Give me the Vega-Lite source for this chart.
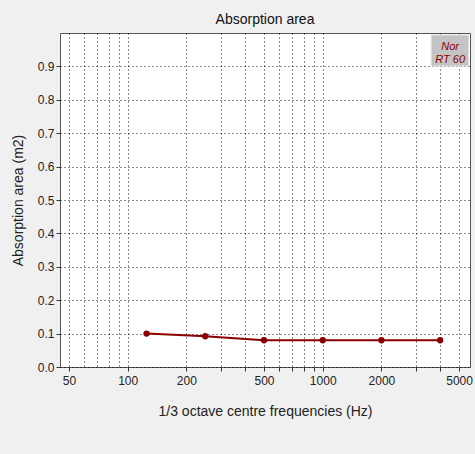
{
  "$schema": "https://vega.github.io/schema/vega-lite/v6.json",
  "autosize": "none",
  "width": 410,
  "height": 334,
  "padding": {"left": 60, "top": 33, "right": 5, "bottom": 87},
  "background": "#f0f0f0",
  "title": {"text": "Absorption area", "fontSize": 14, "fontWeight": "normal", "font": "Liberation Sans", "color": "#111", "offset": 6},
  "config": {
    "view": {"stroke": "#555", "fill": "white", "strokeWidth": 1},
    "axis": {"labelFont": "Liberation Sans", "titleFont": "Liberation Sans", "labelFontSize": 12, "titleFontSize": 14, "titleFontWeight": "normal", "labelColor": "#222", "titleColor": "#222", "domain": false, "tickColor": "#333", "gridColor": "#000", "gridDash": [1, 3], "gridOpacity": 0.9, "labelOverlap": false}
  },
  "datasets": {
    "main": [
      {"freq": 125, "area": 0.10},
      {"freq": 250, "area": 0.092},
      {"freq": 500, "area": 0.08},
      {"freq": 1000, "area": 0.08},
      {"freq": 2000, "area": 0.08},
      {"freq": 4000, "area": 0.08}
    ],
    "badge": [{"label": "Nor\nRT 60"}]
  },
  "layer": [
    {
      "data": {"name": "main"},
      "mark": {"type": "line", "color": "#8b0000", "strokeWidth": 2},
      "encoding": {
        "x": {"field": "freq", "type": "quantitative",
          "scale": {"type": "log", "domain": [45, 5690], "nice": false},
          "axis": {
            "title": "1/3 octave centre frequencies (Hz)",
            "values": [50, 60, 70, 80, 90, 100, 200, 300, 400, 500, 600, 700, 800, 900, 1000, 2000, 3000, 4000, 5000],
            "labelExpr": "indexof([50,100,200,500,1000,2000,5000], datum.value) >= 0 ? datum.value : ''",
            "tickOpacity": {"condition": {"test": "datum.value < 100 && datum.value != 50", "value": 0}, "value": 1},
            "tickSize": 4, "labelPadding": 4, "titlePadding": 18, "labelFlush": false
          }
        },
        "y": {"field": "area", "type": "quantitative",
          "scale": {"domain": [0, 1], "nice": false},
          "axis": {
            "title": "Absorption area (m2)",
            "values": [0, 0.1, 0.2, 0.3, 0.4, 0.5, 0.6, 0.7, 0.8, 0.9],
            "format": ".1f", "tickSize": 4, "labelPadding": 2, "titlePadding": 12, "labelFlush": false, "labelOverlap": false
          }
        }
      }
    },
    {
      "data": {"name": "main"},
      "mark": {"type": "point", "filled": true, "color": "#8b0000", "size": 40, "opacity": 1},
      "encoding": {
        "x": {"field": "freq", "type": "quantitative",
          "axis": {
            "title": "1/3 octave centre frequencies (Hz)",
            "values": [50, 60, 70, 80, 90, 100, 200, 300, 400, 500, 600, 700, 800, 900, 1000, 2000, 3000, 4000, 5000],
            "labelExpr": "indexof([50,100,200,500,1000,2000,5000], datum.value) >= 0 ? datum.value : ''",
            "tickOpacity": {"condition": {"test": "datum.value < 100 && datum.value != 50", "value": 0}, "value": 1},
            "tickSize": 4, "labelPadding": 4, "titlePadding": 18, "labelFlush": false
          }
        },
        "y": {"field": "area", "type": "quantitative",
          "axis": {
            "title": "Absorption area (m2)",
            "values": [0, 0.1, 0.2, 0.3, 0.4, 0.5, 0.6, 0.7, 0.8, 0.9],
            "format": ".1f", "tickSize": 4, "labelPadding": 2, "titlePadding": 12, "labelFlush": false, "labelOverlap": false
          }
        }
      }
    },
    {
      "data": {"name": "badge"},
      "mark": {"type": "rect", "fill": "#c4c4c4", "stroke": "#e0e0e0", "strokeWidth": 1},
      "encoding": {
        "x": {"datum": 3600, "type": "quantitative",
          "axis": {
            "title": "1/3 octave centre frequencies (Hz)",
            "values": [50, 60, 70, 80, 90, 100, 200, 300, 400, 500, 600, 700, 800, 900, 1000, 2000, 3000, 4000, 5000],
            "labelExpr": "indexof([50,100,200,500,1000,2000,5000], datum.value) >= 0 ? datum.value : ''",
            "tickOpacity": {"condition": {"test": "datum.value < 100 && datum.value != 50", "value": 0}, "value": 1},
            "tickSize": 4, "labelPadding": 4, "titlePadding": 18, "labelFlush": false
          }
        },
        "x2": {"datum": 5600},
        "y": {"datum": 0.901, "type": "quantitative",
          "axis": {
            "title": "Absorption area (m2)",
            "values": [0, 0.1, 0.2, 0.3, 0.4, 0.5, 0.6, 0.7, 0.8, 0.9],
            "format": ".1f", "tickSize": 4, "labelPadding": 2, "titlePadding": 12, "labelFlush": false, "labelOverlap": false
          }
        },
        "y2": {"datum": 0.994}
      }
    },
    {
      "data": {"name": "badge"},
      "mark": {"type": "text", "font": "Liberation Sans", "fontStyle": "italic", "fontSize": 11, "color": "#8b0000", "lineBreak": "\n", "lineHeight": 13, "align": "center", "baseline": "middle"},
      "encoding": {
        "text": {"field": "label"},
        "x": {"datum": 4500, "type": "quantitative",
          "axis": {
            "title": "1/3 octave centre frequencies (Hz)",
            "values": [50, 60, 70, 80, 90, 100, 200, 300, 400, 500, 600, 700, 800, 900, 1000, 2000, 3000, 4000, 5000],
            "labelExpr": "indexof([50,100,200,500,1000,2000,5000], datum.value) >= 0 ? datum.value : ''",
            "tickOpacity": {"condition": {"test": "datum.value < 100 && datum.value != 50", "value": 0}, "value": 1},
            "tickSize": 4, "labelPadding": 4, "titlePadding": 18, "labelFlush": false
          }
        },
        "y": {"datum": 0.957, "type": "quantitative",
          "axis": {
            "title": "Absorption area (m2)",
            "values": [0, 0.1, 0.2, 0.3, 0.4, 0.5, 0.6, 0.7, 0.8, 0.9],
            "format": ".1f", "tickSize": 4, "labelPadding": 2, "titlePadding": 12, "labelFlush": false, "labelOverlap": false
          }
        }
      }
    }
  ]
}
